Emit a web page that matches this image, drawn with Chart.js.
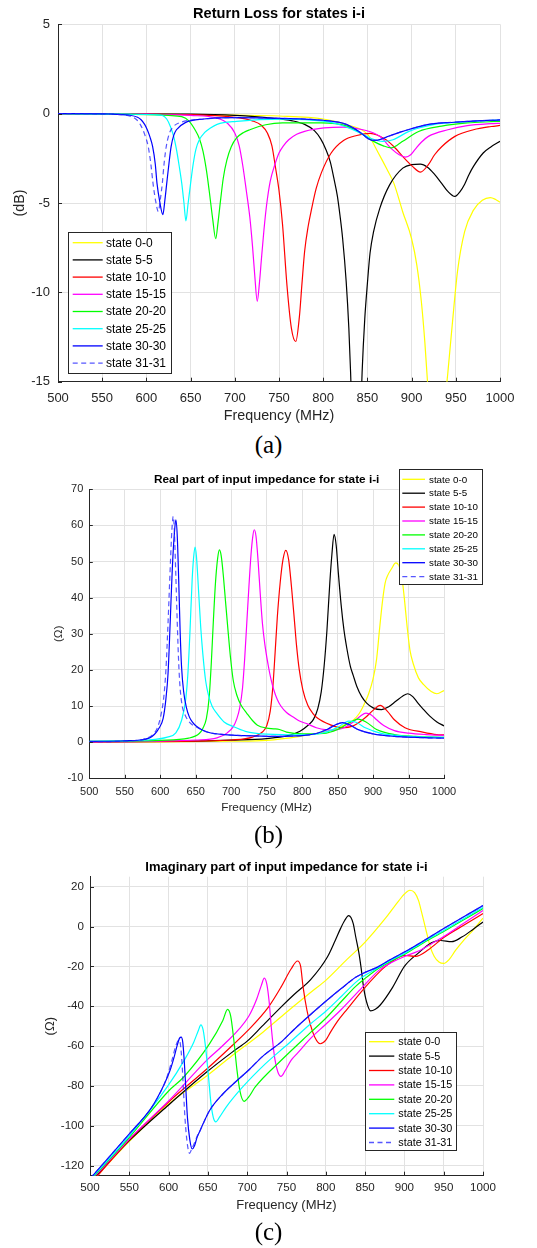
<!DOCTYPE html>
<html>
<head>
<meta charset="utf-8">
<script src="https://cdn.jsdelivr.net/npm/chart.js@4.4.1/dist/chart.umd.min.js"></script>
<style>
  html, body { margin: 0; padding: 0; background: #fff; }
  body { width: 537px; height: 1248px; position: relative; overflow: hidden; }
  canvas { position: absolute; left: 0; }
  .cap { position: absolute; left: 0; width: 537px; text-align: center;
         font-family: "Liberation Serif", "Times New Roman", serif; font-size: 25px; line-height: 28px; color: #000; }
</style>
</head>
<body>
<canvas id="returnLoss" width="537" height="430" style="top:0px;width:537px;height:430px"></canvas>
<div class="cap" style="top:431px">(a)</div>
<canvas id="realPart" width="537" height="362" style="top:460px;width:537px;height:362px"></canvas>
<div class="cap" style="top:821px">(b)</div>
<canvas id="imagPart" width="537" height="370" style="top:850px;width:537px;height:370px"></canvas>
<div class="cap" style="top:1218px">(c)</div>

<script>
// ---- labels ----
const stateLabels = ['state 0-0', 'state 5-5', 'state 10-10', 'state 15-15',
                     'state 20-20', 'state 25-25', 'state 30-30', 'state 31-31'];
const stateColors = ['#ffff00', '#000000', '#ff0000', '#ff00ff',
                     '#00ff00', '#00ffff', '#0000ff', 'rgba(30,30,255,0.75)'];
const freqTitle = 'Frequency (MHz)';
const titleRL = 'Return Loss for states i-i';
const titleRe = 'Real part of input impedance for state i-i';
const titleIm = 'Imaginary part of input impedance for state i-i';

// ---- return loss, [MHz, dB] ----
const rl00 = [[500,0],[600,-0.02],[700,-0.08],[750,-0.13],[800,-0.3],[827,-0.62],[850,-1.15],[864,-2.35],[872,-3.1],[880,-3.9],[890,-5.5],[900,-7.0],[906,-8.5],[911,-10.5],[915,-12.8],[918,-15],[922,-18.5],[927,-21],[932,-19],[937,-16.5],[941,-14.5],[946,-11.8],[952,-8.8],[960,-6.6],[970,-5.4],[980,-4.85],[989,-4.7],[995,-4.8],[1000,-4.95]];
const rl55 = [[500,0],[650,-0.03],[700,-0.1],[742,-0.25],[765,-0.4],[779,-0.6],[790,-0.95],[797,-1.4],[803,-2.0],[808,-2.7],[812,-3.6],[816,-4.6],[819,-5.7],[822,-7.0],[826,-9.4],[829,-12],[831,-14.5],[834,-19],[837.5,-24],[841,-19],[844,-14.5],[847,-11.5],[850,-9.5],[853,-7.8],[857,-6.6],[864,-5.3],[875,-4.0],[890,-3.05],[900,-2.85],[910,-2.82],[918,-3.0],[926,-3.4],[934,-3.9],[941,-4.35],[949,-4.63],[955,-4.35],[960,-3.95],[965,-3.4],[970,-2.95],[981,-2.2],[990,-1.85],[1000,-1.55]];
const rl1010 = [[500,0],[650,-0.05],[700,-0.2],[720,-0.4],[730,-0.65],[737,-1.1],[742,-1.8],[746,-3.0],[750,-4.3],[754,-6.2],[759,-9.6],[764,-12.0],[769,-12.75],[773,-11.4],[776,-9.5],[779,-7.7],[783,-6.3],[787,-5.3],[792,-4.2],[798,-3.3],[809,-2.2],[823,-1.5],[838,-1.22],[853,-1.1],[871,-1.46],[882,-1.95],[890,-2.4],[901,-2.95],[910,-3.27],[919,-2.85],[926,-2.3],[934,-1.85],[949,-1.27],[970,-0.9],[990,-0.72],[1000,-0.66]];
const rl1515 = [[500,0],[600,-0.03],[650,-0.1],[680,-0.25],[692,-0.55],[700,-1.08],[705,-1.8],[709,-2.9],[713,-4.3],[717,-5.8],[720,-7.4],[722.5,-9],[725.4,-10.5],[728,-9.4],[730,-8.2],[733,-6.5],[736,-5.1],[740,-3.8],[745,-2.9],[750,-2.2],[755,-1.8],[761,-1.46],[770,-1.15],[779,-0.99],[801,-0.8],[823,-0.75],[845,-0.9],[864,-1.27],[878,-2.0],[886,-2.3],[893,-2.43],[899,-2.3],[904,-2.0],[911,-1.6],[919,-1.27],[941,-0.9],[963,-0.67],[990,-0.56],[1000,-0.54]];
const rl2020 = [[500,0],[600,-0.05],[625,-0.1],[640,-0.17],[648,-0.4],[655,-0.9],[660,-1.4],[664,-2.1],[668,-3.2],[671,-4.3],[675,-5.9],[678.4,-7.0],[681,-6.1],[684,-4.8],[687,-3.6],[691,-2.6],[696,-1.85],[702,-1.36],[710,-1.05],[717,-0.9],[735,-0.62],[754,-0.52],[798,-0.52],[827,-0.7],[842,-1.08],[857,-1.55],[868,-1.8],[877,-1.92],[884,-1.75],[890,-1.55],[908,-1.0],[934,-0.7],[963,-0.52],[990,-0.45],[1000,-0.43]];
const rl2525 = [[500,0],[580,-0.03],[610,-0.06],[618,-0.1],[623,-0.3],[627,-0.7],[631,-1.3],[634,-2.0],[637,-2.9],[640,-3.9],[642.5,-5.0],[644.7,-6.0],[647,-5.1],[650,-3.9],[653,-2.8],[656,-2.0],[660,-1.45],[666,-1.05],[672,-0.82],[680,-0.6],[702,-0.43],[754,-0.3],[800,-0.42],[816,-0.58],[838,-0.99],[853,-1.36],[867,-1.55],[879,-1.46],[897,-0.99],[926,-0.6],[963,-0.45],[990,-0.37],[1000,-0.36]];
const rl3030 = [[500,0],[560,-0.02],[580,-0.08],[590,-0.2],[594,-0.34],[598,-0.6],[601,-0.9],[604,-1.3],[607,-1.83],[610,-2.8],[612,-3.9],[615,-4.9],[618.6,-5.65],[621,-4.8],[623,-3.9],[625.5,-2.8],[628,-1.83],[631,-1.2],[634,-0.9],[644,-0.5],[665,-0.3],[700,-0.22],[750,-0.26],[800,-0.37],[826,-0.6],[842,-1.05],[851,-1.4],[857,-1.5],[864,-1.45],[872,-1.3],[890,-0.99],[919,-0.6],[948,-0.48],[990,-0.37],[1000,-0.35]];
const rl3131 = [[500,0],[560,-0.02],[578,-0.1],[585,-0.2],[589,-0.34],[593,-0.6],[596,-0.9],[599,-1.3],[602,-1.83],[605,-2.8],[607.5,-3.9],[610.5,-4.9],[613.5,-5.47],[616,-4.7],[618,-3.9],[620,-2.8],[622.5,-1.83],[626,-1.1],[630,-0.75],[638,-0.5],[665,-0.3],[700,-0.22],[750,-0.26],[800,-0.37],[826,-0.6],[842,-1.05],[851,-1.4],[857,-1.5],[864,-1.45],[872,-1.3],[890,-0.99],[919,-0.6],[948,-0.48],[990,-0.37],[1000,-0.35]];

// ---- real part of input impedance, [MHz, ohm] ----
const re00 = [[500,0.1],[600,0.1],[700,0.25],[750,0.5],[797,1.6],[820,2.4],[844,3.4],[860,4.8],[872,6.1],[880,7.8],[886,9.9],[893,13],[900,17.5],[905,23],[909,31],[913,38.5],[917,44],[921,46.3],[926,48],[932,49.6],[936,49],[940,46.5],[944,40],[948,32],[952,25.5],[957,21.5],[964,17.8],[971,16],[982,14],[990,13.4],[1000,14.3]];
const re55 = [[500,0.1],[650,0.3],[700,0.55],[750,1.0],[780,1.8],[797,3.0],[808,4.6],[816,6.3],[822,9.2],[827,14],[831,21],[835,31],[839,44],[842,52],[845,57.5],[848,54.5],[851,47],[855,38],[859,31],[863,26],[868,21],[872,18.5],[877,15.5],[884,12.6],[891,10.8],[900,9.5],[912,9.0],[922,9.8],[932,11.3],[942,12.8],[949,13.4],[956,12.6],[963,10.9],[970,9.3],[980,7.2],[990,5.6],[1000,4.5]];
const re1010 = [[500,0.1],[650,0.3],[700,0.6],[730,1.4],[745,3.0],[750,4.5],[755,8.5],[759,16],[762,25],[765,34.5],[769,44],[773,50.5],[777,53.1],[781,50.5],[785,43],[789,34],[792,27],[796,20],[801,14.5],[808,10.2],[815,8],[822,6.6],[840,4.8],[855,4.0],[872,4.5],[888,6.6],[900,8.8],[910,10.2],[920,8.6],[930,6.2],[945,4.0],[970,2.8],[990,2.1],[1000,2.0]];
const re1515 = [[500,0.1],[600,0.3],[650,0.6],[680,1.2],[694,2.5],[703,4.3],[708,6.5],[712,9.5],[716,15],[719,23],[722,33],[725,43],[728,52],[730.5,57],[732.5,58.8],[735,57],[738,50],[741,41],[744,33],[747.5,27],[752,21.5],[756,17.5],[760,14.5],[765,11.8],[770,10],[778,8.2],[788,6.9],[797,5.8],[808,5.0],[820,4.0],[835,3.4],[845,3.3],[855,3.7],[863,4.4],[872,5.6],[882,7.2],[890,8.05],[897,7.6],[905,6.2],[915,4.6],[930,3.2],[950,2.5],[975,2.1],[1000,1.9]];
const re2020 = [[500,0.2],[600,0.5],[640,1.1],[655,2.4],[660,3.8],[665,6.5],[669,12.5],[672,22],[675,34],[678,44.5],[681,51],[683.5,53.2],[686,51.5],[689,46],[692,39],[695.5,31],[699,23.5],[703,17],[708,13],[714,10.2],[722,8.0],[730,6.0],[737,4.7],[750,3.9],[760,3.7],[768,3.5],[778,2.8],[800,2.3],[830,2.4],[850,3.5],[865,5.2],[879,6.4],[890,5.6],[905,3.5],[930,2.1],[960,1.6],[1000,1.3]];
const re2525 = [[500,0.2],[580,0.6],[610,1.4],[622,2.6],[630,6],[636,12],[639,19],[642,31],[645,45],[647,51],[649,54],[651,51.5],[654,42],[657,32],[660,24.5],[664,17],[668,13],[673,10],[680,7.9],[690,5.6],[703,4.3],[720,3.0],[750,2.2],[800,2.0],[830,2.6],[850,4.1],[866,5.8],[876,5.5],[890,3.9],[910,2.5],[950,1.6],[1000,1.3]];
const re3030 = [[500,0.2],[550,0.4],[571,0.6],[585,1.2],[592,2.2],[598,3.8],[604,6.5],[608,12],[611,19],[614,33],[617,48],[620,58],[622,61.5],[624,57],[626,45],[628,31],[630,21],[633,14],[637,9.5],[641,7.0],[646,5.4],[651,4.4],[660,3.3],[670,2.6],[690,2.1],[720,1.8],[760,1.6],[800,1.8],[820,2.4],[835,3.5],[848,4.9],[857,5.4],[866,4.9],[880,3.4],[900,2.3],[930,1.6],[960,1.3],[1000,1.1]];
const re3131 = [[500,0.1],[560,0.4],[580,1.0],[590,2.2],[596,4],[601,7.5],[605,12.5],[608,20],[611,33],[614,48],[616.5,59],[618.4,62.5],[620,58],[622,46],[624,33],[626,22],[628,15],[631,10],[635,7.5],[640,5.8],[646,4.7],[651,4.2],[660,3.3],[670,2.6],[690,2.1],[720,1.8],[760,1.6],[800,1.8],[820,2.4],[835,3.5],[848,4.9],[857,5.4],[866,4.9],[880,3.4],[900,2.3],[930,1.6],[960,1.3],[1000,1.1]];

// ---- imaginary part of input impedance, [MHz, ohm] ----
const im00 = [[500,-129],[550,-107.8],[600,-89],[650,-74.5],[681,-64.7],[720,-53],[750,-43],[781,-33],[800,-27],[827,-16.5],[850,-7.8],[877,4.7],[893,13],[900,16.3],[907,18.2],[913,17],[918,13],[922,7],[927,-1],[933,-10.3],[938,-15],[944,-17.8],[950,-18.5],[957,-16.5],[965,-12],[977,-6.2],[988,-1.5],[1000,4.2]];
const im55 = [[500,-128.5],[550,-107.4],[600,-89.5],[650,-72.5],[681,-63],[700,-57.5],[719,-50],[743,-40.4],[760,-34],[781,-26.5],[802,-15.3],[812,-7],[819,-0.8],[824,3],[829,5.5],[832,4.5],[835,1.3],[838,-5],[842,-13],[845,-21],[848,-30.3],[852,-38],[857,-42.3],[863,-41.5],[869,-39.5],[885,-30.5],[900,-20],[918,-13.2],[935,-8],[946,-7],[960,-7.6],[973,-5.3],[988,-1.2],[1000,2.3]];
const im1010 = [[500,-129.5],[550,-107],[600,-88],[650,-71],[681,-59.7],[700,-52.5],[727,-40.4],[743,-30.4],[756,-21.2],[764,-17.3],[768,-20],[771,-30],[776,-42],[781,-50],[786,-55.5],[793,-58.8],[800,-57],[806,-53],[815,-47.5],[827,-41.5],[850,-30.5],[873,-21],[890,-16],[900,-14.5],[914,-15],[931,-11.5],[950,-5.5],[977,1],[1000,6.5]];
const im1515 = [[500,-128],[550,-106.6],[600,-87.5],[650,-66.5],[669,-59.7],[702,-45],[712,-36.5],[718,-29.5],[721.8,-25.9],[725,-29],[728,-38],[731,-52],[735,-66],[739,-73],[743,-75.2],[748,-72.5],[756,-67],[764,-63.5],[781,-56],[800,-49],[820,-41.5],[844,-31.5],[869,-21.5],[885,-17.8],[900,-15],[918,-12.3],[935,-8.5],[950,-5],[975,1.5],[1000,8]];
const im2020 = [[500,-127.5],[550,-105.8],[600,-82.5],[619,-75.6],[652,-58.9],[669,-47.1],[675,-41.6],[679,-45],[683,-57],[687,-72],[691,-83],[696,-87.7],[702,-85.5],[710,-80.6],[743,-67.2],[781,-53],[800,-46],[820,-37.5],[838,-30],[850,-26],[865,-21.5],[880,-18],[900,-14],[925,-8],[950,-2.5],[975,3.3],[1000,9]];
const im2525 = [[500,-127],[550,-105],[598,-80.6],[620,-67],[632,-58],[638,-52],[641,-49.3],[644,-52],[647,-60.5],[650,-72],[654,-89],[657,-96],[660,-98],[665,-95.5],[673,-90.7],[694,-80.6],[723,-68.9],[752,-58.9],[780,-49],[800,-42.5],[820,-35],[838,-28],[850,-24.5],[865,-21],[880,-17.5],[900,-13.5],[925,-7.5],[950,-2],[975,3.8],[1000,9.6]];
const im3030 = [[500,-126.5],[550,-104],[578,-91],[594,-79.5],[602,-72],[607,-65.5],[611,-59.5],[614,-56],[616,-55.5],[618,-58],[620,-68],[622,-82],[624,-96],[627,-107],[630,-111.6],[633,-110],[636,-106],[640,-102.4],[652,-92.4],[669,-84],[685,-78],[702,-72],[720,-65],[743,-58],[760,-51.5],[781,-44],[800,-37.5],[820,-31],[838,-25.5],[850,-23],[865,-20.5],[880,-17],[900,-12.8],[925,-7],[950,-1],[975,4.8],[1000,10.5]];
const im3131 = [[500,-126.5],[550,-104],[578,-91],[594,-79.5],[600,-73],[605,-66],[609,-60],[613,-57],[615,-59],[617,-68],[619,-83],[621,-97],[623.5,-108],[626.6,-113.8],[629,-112],[633,-108.5],[636,-105.5],[640,-102.4],[652,-92.4],[669,-84],[685,-78],[702,-72],[720,-65],[743,-58],[760,-51.5],[781,-44],[800,-37.5],[820,-31],[838,-25.5],[850,-23],[865,-20.5],[880,-17],[900,-12.8],[925,-7],[950,-1],[975,4.8],[1000,10.5]];

// ---- styling helpers ----
const INK = '#262626';
const GRID = '#e2e2e2';
const FONT = "'Liberation Sans', Arial, Helvetica, sans-serif";
Chart.defaults.font.family = FONT;

// MATLAB-style tick marks pointing into the plot box
const inwardTicks = {
  id: 'inwardTicks',
  afterDatasetsDraw(chart, args, opts) {
    const { ctx, chartArea: a, scales: { x, y } } = chart;
    const len = opts.length || 4;
    ctx.save();
    ctx.strokeStyle = INK;
    ctx.lineWidth = 1;
    ctx.beginPath();
    x.ticks.forEach(t => {
      const px = Math.round(x.getPixelForValue(t.value)) + 0.5;
      ctx.moveTo(px, a.bottom); ctx.lineTo(px, a.bottom - len);
    });
    y.ticks.forEach(t => {
      const py = Math.round(y.getPixelForValue(t.value)) + 0.5;
      ctx.moveTo(a.left, py); ctx.lineTo(a.left + len, py);
    });
    ctx.stroke();
    ctx.restore();
  }
};

// boxed legend placed at a fixed spot
const boxLegend = {
  id: 'boxLegend',
  afterDraw(chart, args, o) {
    const ctx = chart.ctx;
    ctx.save();
    ctx.fillStyle = '#fff';
    ctx.fillRect(o.left, o.top, o.width, o.height);
    ctx.strokeStyle = INK;
    ctx.lineWidth = 1;
    ctx.strokeRect(Math.round(o.left) + 0.5, Math.round(o.top) + 0.5, Math.round(o.width), Math.round(o.height));
    ctx.font = o.fontSize + 'px ' + FONT;
    ctx.textBaseline = 'middle';
    ctx.textAlign = 'left';
    chart.data.datasets.forEach((ds, i) => {
      const yy = o.firstRow + i * o.rowStep;
      ctx.strokeStyle = ds.borderColor;
      ctx.lineWidth = 1.3;
      ctx.setLineDash(ds.borderDash || []);
      ctx.beginPath();
      ctx.moveTo(o.lineStart, yy); ctx.lineTo(o.lineEnd, yy);
      ctx.stroke();
      ctx.setLineDash([]);
      ctx.fillStyle = '#000';
      ctx.fillText(ds.label, o.textX, yy + 0.5);
    });
    ctx.restore();
  }
};

function buildDatasets(seriesList) {
  return seriesList.map((pairs, i) => ({
    label: stateLabels[i],
    data: pairs.map(([x, y]) => ({ x, y })),
    borderColor: stateColors[i],
    borderWidth: 1.2,
    borderDash: i === 7 ? [5, 3.5] : [],
    pointRadius: 0,
    fill: false,
    cubicInterpolationMode: 'monotone',
    order: seriesList.length - i
  }));
}

function makeChart(id, g) {
  return new Chart(document.getElementById(id), {
    type: 'line',
    data: { datasets: buildDatasets(g.series) },
    options: {
      responsive: false,
      animation: false,
      events: [],
      layout: { padding: { left: 0, top: 0, right: g.padRight, bottom: g.padBottom } },
      plugins: {
        legend: { display: false },
        tooltip: { enabled: false },
        title: {
          display: true, text: g.title, fullSize: false, color: '#000',
          font: { size: g.titleSize, weight: 'bold' },
          padding: { top: g.titleTop, bottom: g.titleBottom }
        },
        inwardTicks: { length: g.tickLen },
        boxLegend: g.legend
      },
      scales: {
        x: {
          type: 'linear', min: 500, max: 1000,
          afterFit: s => { s.height = g.xHeight; },
          ticks: {
            stepSize: 50, includeBounds: false, autoSkip: false, maxRotation: 0,
            padding: g.xTickPad, color: INK, font: { size: g.tickSize },
            callback: v => String(v)
          },
          grid: { color: GRID, drawTicks: false, lineWidth: 1 },
          border: { color: INK, width: 1 },
          title: {
            display: true, text: freqTitle, color: INK,
            font: { size: g.axisSize }, padding: { top: 0, bottom: g.xTitlePad }
          }
        },
        y: {
          type: 'linear', min: g.yMin, max: g.yMax,
          afterFit: s => { s.width = g.yWidth; },
          ticks: {
            stepSize: g.yStep, includeBounds: false, autoSkip: false,
            padding: g.yTickPad, color: INK, font: { size: g.tickSize },
            callback: v => String(v)
          },
          grid: { color: GRID, drawTicks: false, lineWidth: 1 },
          border: { color: INK, width: 1 },
          title: {
            display: true, text: g.yTitle, color: INK,
            font: { size: g.axisSize }, padding: { top: g.yTitlePad, bottom: 0 }
          }
        }
      }
    },
    plugins: [inwardTicks, boxLegend]
  });
}

// (a) return loss
makeChart('returnLoss', {
  series: [rl00, rl55, rl1010, rl1515, rl2020, rl2525, rl3030, rl3131],
  title: titleRL, titleSize: 14.6, titleTop: 4.9, titleBottom: 1.9,
  padRight: 37, padBottom: 3.3,
  yMin: -15, yMax: 5, yStep: 5, yTitle: '(dB)',
  yWidth: 58, yTickPad: 8, yTitlePad: 11.4,
  xHeight: 45, xTickPad: 8.5, xTitlePad: 1.6,
  tickSize: 13, axisSize: 14.3, tickLen: 4,
  legend: { left: 68.3, top: 231.7, width: 103.4, height: 141, firstRow: 242.7, rowStep: 17.2,
            lineStart: 72.7, lineEnd: 102.7, textX: 106, fontSize: 12 }
});

// (b) real part
makeChart('realPart', {
  series: [re00, re55, re1010, re1515, re2020, re2525, re3030, re3131],
  title: titleRe, titleSize: 11.8, titleTop: 12.9, titleBottom: 2.2,
  padRight: 93, padBottom: 3.7,
  yMin: -10, yMax: 70, yStep: 10, yTitle: '(\u03A9)',
  yWidth: 89.3, yTickPad: 6, yTitlePad: 51.9,
  xHeight: 40, xTickPad: 6.8, xTitlePad: 3.2,
  tickSize: 11, axisSize: 11.75, tickLen: 3.5,
  legend: { left: 398.7, top: 9.3, width: 82.6, height: 115, firstRow: 19.3, rowStep: 13.9,
            lineStart: 402.3, lineEnd: 425, textX: 429, fontSize: 9.8 }
});

// (c) imaginary part
makeChart('imagPart', {
  series: [im00, im55, im1010, im1515, im2020, im2525, im3030, im3131],
  title: titleIm, titleSize: 13, titleTop: 9.2, titleBottom: 1.9,
  padRight: 54, padBottom: 4.3,
  yMin: -125, yMax: 25, yStep: 20, yTitle: '(\u03A9)',
  yWidth: 90, yTickPad: 6, yTitlePad: 42.2,
  xHeight: 40, xTickPad: 5.3, xTitlePad: 2.2,
  tickSize: 11.6, axisSize: 13, tickLen: 4,
  legend: { left: 365, top: 182.3, width: 91.3, height: 117.7, firstRow: 191.7, rowStep: 14.4,
            lineStart: 369, lineEnd: 394.3, textX: 398.3, fontSize: 10.8 }
});
</script>
</body>
</html>
